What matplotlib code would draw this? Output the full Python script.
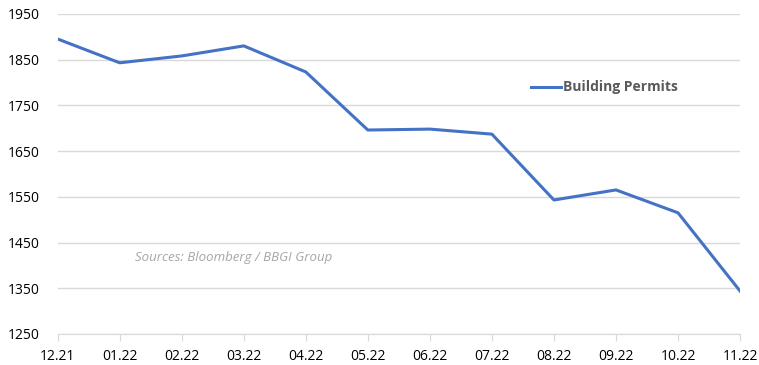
import numpy as np
import matplotlib.pyplot as plt

plt.rcParams['font.family'] = ['Open Sans', 'DejaVu Sans']

# Building permits (thousands, annualised)
months = ['12.21', '01.22', '02.22', '03.22', '04.22', '05.22',
          '06.22', '07.22', '08.22', '09.22', '10.22', '11.22']
permits = [1895, 1843, 1858, 1880, 1823, 1696, 1698, 1687, 1543, 1565, 1515, 1344]

fig = plt.figure(figsize=(7.59, 3.65), dpi=100)
ax = fig.add_axes([0.076, 0.085, 0.899, 0.877])

x = np.arange(len(months))
ax.plot(x, permits, color='#4472C4', lw=2.2, label='Building Permits')

ax.set_xlim(0, len(months) - 1)
ax.set_ylim(1250, 1950)
ax.set_yticks(np.arange(1250, 1951, 100))
ax.set_xticks(x)
ax.set_xticklabels(months)
ax.grid(axis='y', color='#D9D9D9', lw=1)
ax.set_axisbelow(True)

for s in ['top', 'right', 'left']:
    ax.spines[s].set_visible(False)
ax.spines['bottom'].set_color('#D9D9D9')
ax.tick_params(axis='y', length=0, labelsize=10, colors='black', pad=13)
ax.tick_params(axis='x', length=5, color='#D9D9D9', labelsize=10, colors='black', pad=6)

leg = ax.legend(loc='center left', bbox_to_anchor=(0.675, 0.77), frameon=False,
                handlelength=2.2, handletextpad=0.1,
                prop={'weight': 'bold', 'size': 10})
for t in leg.get_texts():
    t.set_color('#595959')

ax.text(0.113, 0.24, 'Sources: Bloomberg / BBGI Group', transform=ax.transAxes,
        fontsize=9.5, style='italic', color='#A6A6A6', va='center')

plt.savefig('out.png', dpi=100)
